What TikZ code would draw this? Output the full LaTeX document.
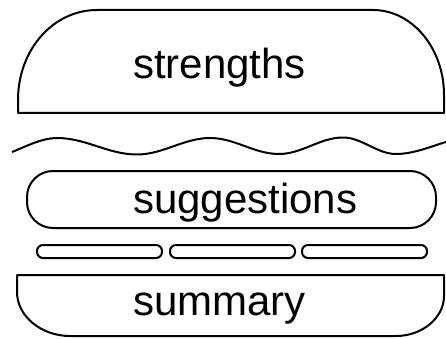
\documentclass[tikz,border=0pt]{standalone}
\usepackage{fontspec}
\setmainfont{Liberation Sans}
\begin{document}
\begin{tikzpicture}[x=1pt, y=-1pt, line width=2pt, line join=round,
  word/.style={anchor=base west, inner sep=0pt, font=\fontsize{42}{50}\selectfont}]
 \useasboundingbox (0,0) rectangle (446,339);
 % top bun
 \draw (18,113) -- (18,100) .. controls (18,50) and (53,10) .. (97,10) -- (373,10)
   .. controls (412,10) and (444,48) .. (444,95) -- (444,113) -- cycle;
 \node[word] (strengths) at (132,79) {strengths};
 % lettuce
 \draw (12,152) .. controls (27,146) and (42,138) .. (57,138)
   .. controls (86,138) and (108,154.5) .. (137,154.5)
   .. controls (163,154.5) and (184,138) .. (210,138)
   .. controls (235,138) and (254,154) .. (279,154)
   .. controls (302,154) and (320,137.5) .. (343,137.5)
   .. controls (362,137.5) and (377,154) .. (396,154)
   .. controls (414,154) and (432,146) .. (446,142);
 % patty
 \draw[rounded corners=26pt] (27,171) rectangle (436,228);
 \node[word] (suggestions) at (132,213) {suggestions};
 % cheese slices
 \foreach \x in {37,170,302}
  \draw[rounded corners=6pt] (\x,245) rectangle ++(125,13);
 % bottom bun
 \draw (17,275) -- (444,275) -- (444,296) .. controls (444,318) and (422,336) .. (396,336)
   -- (70,336) .. controls (41,336) and (17,316) .. (17,292) -- cycle;
 \node[word] (summary) at (132,315) {summary};
\end{tikzpicture}
\end{document}
